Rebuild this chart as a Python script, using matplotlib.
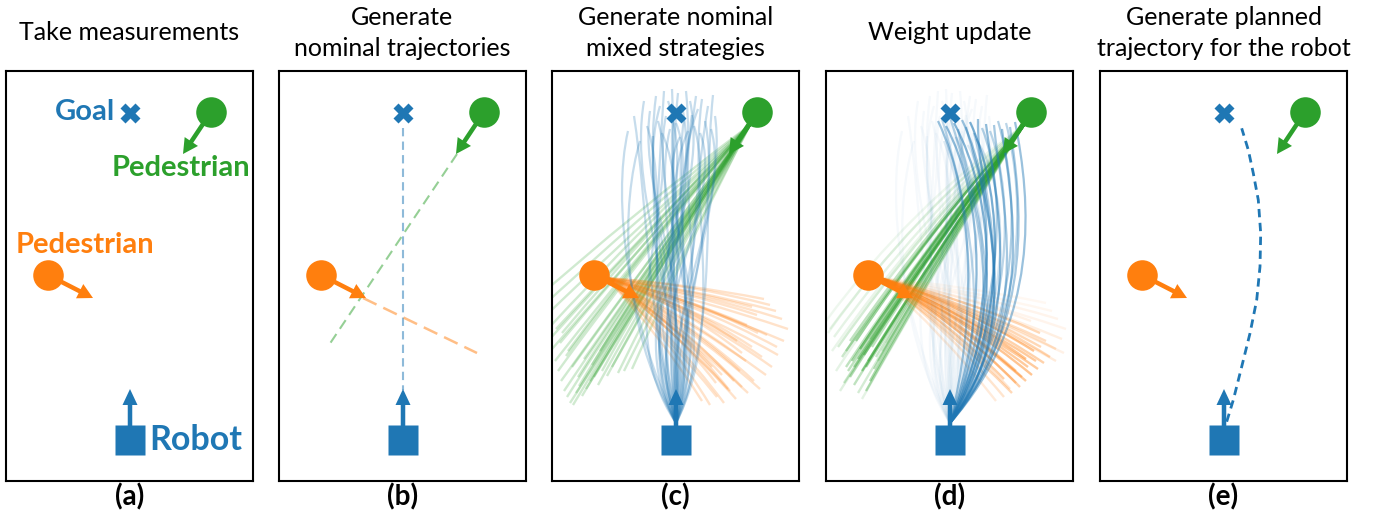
import numpy as np
import matplotlib.pyplot as plt
from matplotlib.path import Path
from matplotlib.patches import PathPatch

plt.rcParams['font.family'] = ['Lato', 'DejaVu Sans']

BLUE = '#1f77b4'
ORANGE = '#ff7f0e'
GREEN = '#2ca02c'

W, H = 1377, 516
PW, PH = 247, 410  # panel size in px (1 data unit = 1 px)

titles = ['Take measurements', 'Generate\nnominal trajectories',
          'Generate nominal\nmixed strategies', 'Weight update',
          'Generate planned\ntrajectory for the robot']
labels = ['(a)', '(b)', '(c)', '(d)', '(e)']
panel_left = [6, 279, 552, 826, 1100]

# scene (panel px, y down)
goal = (124, 42)
ped_green = (205, 41)
ped_green_tip = (177, 83)
ped_orange = (42, 204)
ped_orange_tip = (87, 227)
robot = (124, 369)
robot_tip = (124, 318)

# (b) nominal straight-line predictions
nom_blue = ([124, 124], [57, 319])
nom_green = ([178, 50], [83, 274])
nom_orange = ([84, 198], [227, 282])

# (c) sampled robot trajectories: end point and cubic control x's
blue_c_end_x = [76, 82, 88, 92, 95, 98, 101, 104, 106, 108, 110, 112, 114, 116, 118, 120, 122, 124,
                126, 128, 130, 132, 134, 136, 138, 140, 142, 144, 146, 148, 150, 153, 156, 159, 161, 163]
blue_c_end_y = [60, 45, 70, 30, 55, 40, 65, 25, 50, 35, 62, 20, 45, 30, 58, 18, 40, 52,
                22, 66, 35, 48, 20, 60, 30, 44, 55, 25, 38, 62, 28, 50, 35, 58, 24, 45]
blue_c_c1x = [76, 96, 66, 136, 86, 156, 106, 126, 56, 146, 116, 96, 166, 76, 136, 112, 156, 66,
              126, 176, 92, 146, 106, 132, 72, 160, 116, 100, 152, 84, 176, 128, 140, 108, 168, 120]
blue_c_c2x = [60, 95, 70, 75, 120, 85, 100, 90, 130, 80, 140, 105, 95, 150, 100, 125, 110, 155,
              115, 95, 150, 120, 145, 105, 160, 125, 165, 130, 110, 175, 135, 170, 140, 180, 150, 175]

green_c_end_x = [-25, -20, -14, -8, -4, 0, 3, 6, 9, 12, 15, 18, 21, 24, 27, 30, 34, 38,
                 42, 46, 50, 55, 60, 66, 72, 80, 8, 14, 20, 26, 32, 40, 48, 4, 10, 16]
green_c_end_y = [236, 245, 252, 262, 270, 278, 290, 300, 310, 320, 326, 332, 334, 322, 315, 325, 318, 310,
                 306, 314, 300, 305, 296, 302, 300, 298, 272, 285, 296, 306, 288, 294, 280, 258, 262, 280]
green_c_bend = [6, 4, 2, 5, 3, 1, 4, 6, 2, 3, 5, 1, 4, 2, 6, 3, 1, 5,
                2, 4, 6, 3, 1, 5, 2, 4, 3, 6, 2, 5, 1, 4, 3, 2, 5, 6]

orange_c_end_x = [150, 158, 165, 172, 178, 184, 190, 196, 202, 208, 214, 220, 226, 232, 236, 230, 224, 218,
                  212, 206, 200, 194, 188, 182, 176, 170, 164, 160, 185, 195, 205, 215, 225, 200, 210, 190]
orange_c_end_y = [330, 334, 326, 332, 320, 328, 316, 322, 310, 318, 304, 296, 284, 270, 258, 248, 240, 234,
                  228, 262, 276, 290, 300, 310, 318, 304, 312, 296, 270, 254, 244, 264, 276, 236, 286, 282]
orange_c_bend = [-8, -12, -6, -10, -14, -9, -11, -7, -13, -10, -8, -12, -9, -6, -5, -7, -6, -8,
                 -5, -10, -12, -9, -11, -14, -8, -10, -12, -9, -11, -7, -6, -9, -10, -5, -12, -13]

# (d) re-weighted trajectories
blue_d_end_x = [112, 116, 120, 124, 128, 132, 136, 140, 144, 148, 152, 156,
                160, 164, 168, 172, 176, 180, 184, 189, 118, 130, 142, 150]
blue_d_end_y = [50, 48, 55, 46, 52, 58, 49, 56, 51, 62, 48, 57,
                53, 60, 54, 50, 58, 52, 56, 51, 70, 66, 74, 68]
blue_d_c1x = [150, 170, 160, 185, 175, 195, 165, 200, 180, 190, 205, 170,
              200, 185, 210, 195, 212, 200, 210, 215, 160, 175, 190, 180]
blue_d_c2x = [150, 140, 160, 150, 170, 145, 175, 160, 180, 165, 150, 185,
              170, 190, 175, 195, 185, 200, 195, 205, 140, 160, 170, 190]
blue_d_w = [0.45, 0.3, 0.5, 0.35, 0.55, 0.3, 0.45, 0.4, 0.6, 0.3, 0.45, 0.35,
            0.5, 0.3, 0.4, 0.35, 0.45, 0.3, 0.4, 0.45, 0.15, 0.2, 0.15, 0.2]

green_d_end_x = [0, 4, 8, 12, 16, 20, 24, 28, 32, 36, 40, 44, 48, 52, 56, 60, 30, 34,
                 38, 42, 46, 26, 22, 18, 14, 10, 50, 36, 40, 44, 28, 32, 20, 24, 6, 2]
green_d_end_y = [250, 258, 266, 276, 286, 296, 306, 314, 322, 328, 320, 310, 298, 290, 280, 272, 270, 278,
                 284, 290, 276, 290, 300, 312, 320, 300, 286, 300, 296, 268, 296, 288, 280, 270, 280, 262]
green_d_bend = [22, 18, 15, 12, 10, 8, 6, 5, 4, 3, 4, 5, 6, 5, 6, 8, 10, 6,
                5, 4, 6, 8, 6, 5, 7, 12, 5, 4, 3, 8, 6, 5, 9, 10, 14, 20]
green_d_w = [0.08, 0.1, 0.12, 0.2, 0.25, 0.3, 0.35, 0.3, 0.2, 0.12, 0.35, 0.4, 0.3, 0.2, 0.15, 0.1, 0.4, 0.45,
             0.4, 0.35, 0.3, 0.4, 0.3, 0.25, 0.15, 0.12, 0.25, 0.45, 0.4, 0.2, 0.35, 0.4, 0.3, 0.3, 0.1, 0.08]

orange_d_end_x = [170, 178, 186, 194, 200, 206, 212, 218, 224, 230, 236, 240, 232, 226, 220, 214, 208, 202,
                  196, 190, 184, 178, 210, 220, 200, 190, 230, 238, 215, 205]
orange_d_end_y = [330, 326, 322, 316, 310, 304, 298, 292, 286, 278, 268, 258, 248, 240, 232, 262, 280, 296,
                  306, 312, 318, 308, 290, 270, 288, 300, 290, 282, 276, 250]
orange_d_bend = [-8, -10, -7, -12, -9, -11, -8, -10, -12, -9, -7, -6, -6, -5, -5, -8, -10, -9,
                 -11, -12, -10, -9, -8, -7, -10, -11, -8, -6, -9, -6]
orange_d_w = [0.15, 0.2, 0.3, 0.35, 0.4, 0.45, 0.4, 0.35, 0.3, 0.2, 0.12, 0.08, 0.08, 0.06, 0.05, 0.3, 0.45, 0.4,
              0.35, 0.3, 0.2, 0.35, 0.4, 0.25, 0.45, 0.3, 0.15, 0.1, 0.3, 0.1]

blue_start = (124, 352)
green_start = (198, 54)
orange_start = (54, 207)

# (e) planned robot trajectory
plan_x = [126.7, 133.3, 141.7, 150.0, 156.7, 160.0, 160.7, 158.3, 153.3, 148.3, 141.7]
plan_y = [350.7, 329.0, 295.7, 262.3, 229.0, 195.7, 162.3, 129.0, 102.3, 79.0, 57.3]


def fan_line(ax, p0, x1, y1, bend, color, alpha, lw=1.7):
    p0 = np.array(p0, float)
    p1 = np.array([x1, y1], float)
    d = p1 - p0
    n = np.array([-d[1], d[0]]) / np.hypot(*d)
    c = (p0 + p1) / 2 + bend * n
    path = Path([p0, c, p1], [Path.MOVETO, Path.CURVE3, Path.CURVE3])
    ax.add_patch(PathPatch(path, fc='none', ec=color, alpha=alpha, lw=lw, zorder=2))


def robot_line(ax, x1, y1, c1x, c2x, alpha, lw=1.6):
    verts = [blue_start, (c1x, 250), (c2x, 130), (x1, y1)]
    path = Path(verts, [Path.MOVETO, Path.CURVE4, Path.CURVE4, Path.CURVE4])
    ax.add_patch(PathPatch(path, fc='none', ec=BLUE, alpha=alpha, lw=lw, zorder=2))


def draw_scene(ax):
    ax.plot(*goal, marker='X', ms=14, color=BLUE, mec='none', zorder=5)
    ax.arrow(ped_green[0], ped_green[1], ped_green_tip[0] - ped_green[0], ped_green_tip[1] - ped_green[1],
             width=4.5, head_width=16, head_length=15, length_includes_head=True,
             fc=GREEN, ec='none', zorder=4)
    ax.plot(*ped_green, marker='o', ms=22, color=GREEN, mec='none', zorder=5)
    ax.arrow(ped_orange[0], ped_orange[1], ped_orange_tip[0] - ped_orange[0], ped_orange_tip[1] - ped_orange[1],
             width=4.5, head_width=16, head_length=15, length_includes_head=True,
             fc=ORANGE, ec='none', zorder=4)
    ax.plot(*ped_orange, marker='o', ms=22, color=ORANGE, mec='none', zorder=5)
    ax.arrow(robot[0], robot[1], 0, robot_tip[1] - robot[1],
             width=4.5, head_width=15, head_length=16, length_includes_head=True,
             fc=BLUE, ec='none', zorder=4)
    ax.plot(*robot, marker='s', ms=22, color=BLUE, mec='none', zorder=5)


fig = plt.figure(figsize=(W / 100, H / 100), dpi=100)
axes = []
for i, left in enumerate(panel_left):
    ax = fig.add_axes([left / W, 35 / H, PW / W, PH / H])
    ax.set_xlim(0, PW)
    ax.set_ylim(PH, 0)
    ax.set_xticks([])
    ax.set_yticks([])
    for s in ax.spines.values():
        s.set_linewidth(1.5)
    draw_scene(ax)
    cx = (left + PW / 2) / W
    fig.text(cx, 1 - 33 / H, titles[i], ha='center', va='center', fontsize=18, linespacing=1.4)
    fig.text(cx, 1 - 497 / H, labels[i], ha='center', va='center', fontsize=20, fontweight='bold')
    axes.append(ax)

# (a) labels
ax = axes[0]
ax.text(109, 41, 'Goal', color=BLUE, ha='right', va='center', fontsize=21, fontweight='bold')
ax.text(175, 97, 'Pedestrian', color=GREEN, ha='center', va='center', fontsize=21, fontweight='bold')
ax.text(79, 174, 'Pedestrian', color=ORANGE, ha='center', va='center', fontsize=21, fontweight='bold')
ax.text(143, 369, 'Robot', color=BLUE, ha='left', va='center', fontsize=24.5, fontweight='bold')

# (b) nominal trajectories
ax = axes[1]
ax.plot(*nom_blue, color=BLUE, alpha=0.5, lw=1.5, ls=(0, (4, 2.5)), zorder=2)
ax.plot(*nom_green, color=GREEN, alpha=0.5, lw=1.5, ls=(0, (5, 3)), zorder=2)
ax.plot(*nom_orange, color=ORANGE, alpha=0.5, lw=1.8, ls=(0, (6, 3)), zorder=2)

# (c) mixed strategies
ax = axes[2]
for x1, y1, b in zip(green_c_end_x, green_c_end_y, green_c_bend):
    fan_line(ax, green_start, x1, y1, b, GREEN, 0.22)
for x1, y1, b in zip(orange_c_end_x, orange_c_end_y, orange_c_bend):
    fan_line(ax, orange_start, x1, y1, b, ORANGE, 0.22)
for x1, y1, a, b in zip(blue_c_end_x, blue_c_end_y, blue_c_c1x, blue_c_c2x):
    robot_line(ax, x1, y1, a, b, 0.25)

# (d) weight update
ax = axes[3]
for x1, y1, b, w in zip(green_d_end_x, green_d_end_y, green_d_bend, green_d_w):
    fan_line(ax, green_start, x1, y1, b, GREEN, w)
for x1, y1, b, w in zip(orange_d_end_x, orange_d_end_y, orange_d_bend, orange_d_w):
    fan_line(ax, orange_start, x1, y1, b, ORANGE, w)
for x1, y1, a, b in zip(blue_c_end_x, blue_c_end_y, blue_c_c1x, blue_c_c2x):
    robot_line(ax, x1, y1, a, b, 0.04)
for x1, y1, a, b, w in zip(blue_d_end_x, blue_d_end_y, blue_d_c1x, blue_d_c2x, blue_d_w):
    robot_line(ax, x1, y1, a, b, w)

# (e) planned trajectory
ax = axes[4]
ax.plot(plan_x, plan_y, color=BLUE, lw=2, ls=(0, (3, 2)), zorder=2)

fig.savefig('out.png', dpi=100)
